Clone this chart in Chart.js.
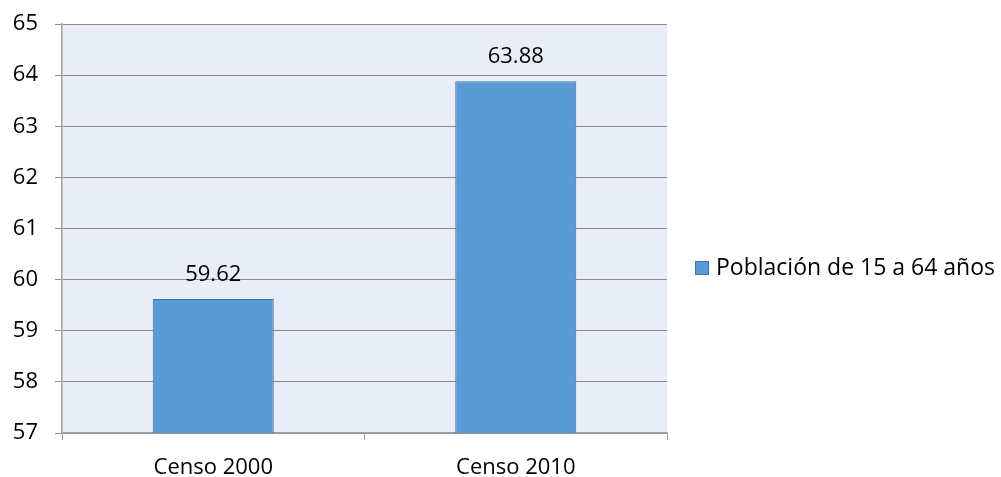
<!DOCTYPE html>
<html lang="es">
<head>
    <meta charset="UTF-8">
    <title>Población de 15 a 64 años</title>
    <script src="https://cdn.jsdelivr.net/npm/chart.js"></script>
    <style>
        html, body { margin: 0; padding: 0; background: #fff; }
        #wrap { width: 1001px; height: 477px; }
    </style>
</head>
<body>
    <div id="wrap"><canvas id="censoChart" width="1001" height="477"></canvas></div>

    <script>
        // Data
        const categories = ['Censo 2000', 'Censo 2010'];
        const poblacion = [59.62, 63.88];
        const seriesName = 'Población de 15 a 64 años';
        const yMin = 57;
        const yMax = 65;

        const fontFamily = '"Open Sans", sans-serif';
        const fontSize = 22;
        const barFill = '#5B9BD5';
        const barBorder = '#41719C';

        // Light panel behind the plot area
        const plotBackground = {
            id: 'plotBackground',
            beforeDraw(chart) {
                const { ctx, chartArea: a } = chart;
                ctx.save();
                ctx.fillStyle = '#E9EDF7';
                ctx.fillRect(a.left, a.top, a.right - a.left, a.bottom - a.top);
                ctx.restore();
            }
        };

        // Values above each bar
        const barValues = {
            id: 'barValues',
            afterDatasetsDraw(chart) {
                const { ctx } = chart;
                const meta = chart.getDatasetMeta(0);
                ctx.save();
                ctx.fillStyle = '#000';
                ctx.font = fontSize + 'px ' + fontFamily;
                ctx.textAlign = 'center';
                ctx.textBaseline = 'alphabetic';
                meta.data.forEach((bar, i) => {
                    ctx.fillText(poblacion[i].toFixed(2), bar.x, bar.y - 18);
                });
                ctx.restore();
            }
        };

        // Legend on the right side
        const sideLegend = {
            id: 'sideLegend',
            afterDraw(chart) {
                const { ctx } = chart;
                const x = 695, y = 268;
                ctx.save();
                ctx.fillStyle = barFill;
                ctx.fillRect(x, y - 7, 14, 14);
                ctx.strokeStyle = barBorder;
                ctx.lineWidth = 1;
                ctx.strokeRect(x + 0.5, y - 6.5, 13, 13);
                ctx.fillStyle = '#000';
                ctx.font = (fontSize + 1) + 'px ' + fontFamily;
                ctx.textAlign = 'left';
                ctx.textBaseline = 'middle';
                ctx.fillText(chart.data.datasets[0].label, x + 21, y);
                ctx.restore();
            }
        };

        new Chart(document.getElementById('censoChart'), {
            type: 'bar',
            data: {
                labels: categories,
                datasets: [{
                    label: seriesName,
                    data: poblacion,
                    backgroundColor: barFill,
                    borderColor: barBorder,
                    borderWidth: 1,
                    borderSkipped: false,
                    categoryPercentage: 1,
                    barPercentage: 0.4
                }]
            },
            options: {
                responsive: false,
                animation: false,
                devicePixelRatio: 1,
                layout: { padding: { top: 24, right: 334, left: 0, bottom: 0 } },
                plugins: {
                    legend: { display: false },
                    tooltip: { enabled: false }
                },
                scales: {
                    x: {
                        afterFit(scale) { scale.height = 44; },
                        grid: {
                            offset: true,
                            drawOnChartArea: false,
                            tickLength: 7,
                            color: '#A0A0A0'
                        },
                        border: { color: '#A0A0A0', width: 1.5 },
                        ticks: {
                            color: '#000',
                            padding: 15,
                            font: { family: fontFamily, size: fontSize }
                        }
                    },
                    y: {
                        min: yMin,
                        max: yMax,
                        afterFit(scale) {
                            scale.width = 62;
                            scale.paddingTop = 0;
                            scale.paddingBottom = 0;
                        },
                        grid: {
                            color: '#8C8C8C',
                            tickLength: 7
                        },
                        border: { color: '#A0A0A0', width: 1.5 },
                        ticks: {
                            stepSize: 1,
                            color: '#000',
                            padding: 17,
                            font: { family: fontFamily, size: fontSize }
                        }
                    }
                }
            },
            plugins: [plotBackground, barValues, sideLegend]
        });
    </script>
</body>
</html>
